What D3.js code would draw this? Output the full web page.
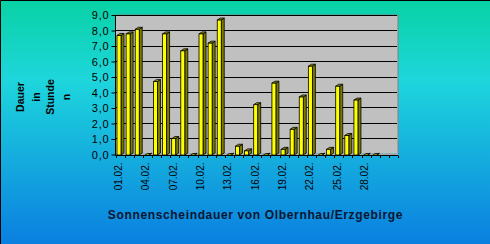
<!DOCTYPE html>
<html>
<head>
<meta charset="utf-8">
<script src="https://cdn.jsdelivr.net/npm/d3@7"></script>
<style>
  body { margin: 0; }
  svg { display: block; font-family: Arial, "Liberation Sans", sans-serif; }
</style>
</head>
<body>
<svg width="490" height="244"></svg>
<script>
// days of the month (31 slots, as on the original sheet)
var days = ["01.02.","02.02.","03.02.","04.02.","05.02.","06.02.","07.02.","08.02.","09.02.","10.02.",
            "11.02.","12.02.","13.02.","14.02.","15.02.","16.02.","17.02.","18.02.","19.02.","20.02.",
            "21.02.","22.02.","23.02.","24.02.","25.02.","26.02.","27.02.","28.02.","29.02.","30.02.","31.02."];
// sunshine hours per day
var hours = [7.8, 7.9, 8.2, 0, 4.8, 7.9, 1.1, 6.8, 0, 7.9,
             7.3, 8.8, 0, 0.6, 0.3, 3.3, 0, 4.7, 0.4, 1.7,
             3.8, 5.8, 0, 0.4, 4.5, 1.3, 3.6, 0, 0, null, null];
var yTicks = [0, 1, 2, 3, 4, 5, 6, 7, 8, 9];
var shownLabels = ["01.02.","04.02.","07.02.","10.02.","13.02.","16.02.","19.02.","22.02.","25.02.","28.02."];
var yTitle = ["Dauer", "in", "Stunde", "n"];
var title = "Sonnenscheindauer von Olbernhau/Erzgebirge";

var svg = d3.select("svg");
var W = 490, H = 244;

// background gradient
var defs = svg.append("defs");
var grad = defs.append("linearGradient").attr("id", "bg").attr("x1", 0).attr("y1", 0).attr("x2", 0).attr("y2", 1);
grad.append("stop").attr("offset", "0%").attr("stop-color", "#08d2a4");
grad.append("stop").attr("offset", "33%").attr("stop-color", "#1ed6dc");
grad.append("stop").attr("offset", "100%").attr("stop-color", "#0a7fe0");
svg.append("rect").attr("width", W).attr("height", H).attr("fill", "url(#bg)");
svg.append("path").attr("d", "M0.5," + H + "V0.5H" + W).attr("fill", "none").attr("stroke", "#000");

// plot geometry
var pLeft = 115.5, pRight = 398, pTop = 15, floorY = 153.5, axisY = 155.5;
var dx = 3, dy = 2; // 3d depth

var x = d3.scaleBand().domain(days).range([pLeft, pRight]);
var y = d3.scaleLinear().domain([0, 9]).range([floorY, pTop]);

// back wall and floor
svg.append("rect").attr("x", pLeft).attr("y", pTop).attr("width", pRight - pLeft).attr("height", floorY - pTop)
   .attr("fill", "#c0c0c0");
svg.append("path").attr("d", "M" + pLeft + "," + pTop + "H" + pRight + "V" + floorY)
   .attr("fill", "none").attr("stroke", "#808080");
svg.append("rect").attr("x", pLeft).attr("y", floorY).attr("width", pRight - pLeft).attr("height", axisY - floorY)
   .attr("fill", "#a8a8a8");

// gridlines
svg.append("g").selectAll("line").data(yTicks.slice(1)).join("line")
   .attr("x1", pLeft).attr("x2", pRight - 1)
   .attr("y1", d => Math.round(y(d)) + 0.5).attr("y2", d => Math.round(y(d)) + 0.5)
   .attr("stroke", "#000");

// bars (side, top, front)
var bars = svg.append("g").selectAll("g").data(hours.map((v, i) => ({day: days[i], v: v})).filter(d => d.v !== null))
   .join("g");
var fw = 4;
bars.each(function(d) {
  var g = d3.select(this);
  var x0 = x(d.day) + 1.5, x1 = x0 + fw;
  var yt = y(d.v) + dy, yb = axisY - 0.5;
  g.append("path").attr("d", "M" + x1 + "," + yt + "l" + dx + "," + (-dy) + "V" + (yb - dy) + "l" + (-dx) + "," + dy + "Z")
   .attr("fill", "#7a7a00").attr("stroke", "#000").attr("stroke-width", 0.8);
  g.append("path").attr("d", "M" + x0 + "," + yt + "l" + dx + "," + (-dy) + "H" + (x1 + dx) + "l" + (-dx) + "," + dy + "Z")
   .attr("fill", "#9a9a00").attr("stroke", "#000").attr("stroke-width", 0.8);
  g.append("rect").attr("x", x0).attr("y", yt).attr("width", fw).attr("height", Math.max(0, yb - yt))
   .attr("fill", "#ffff00").attr("stroke", "#000").attr("stroke-width", 0.8);
});

// y axis
var yAxis = d3.axisLeft(d3.scaleLinear().domain([0, 9]).range([floorY + 1, pTop]))
   .tickValues(yTicks).tickSize(4).tickPadding(2)
   .tickFormat(d => d3.format(".1f")(d).replace(".", ","));
var ya = svg.append("g").attr("transform", "translate(" + pLeft + ",0)").call(yAxis);
ya.select(".domain").attr("stroke", "#000").attr("d", "M0," + pTop + "V" + axisY);
ya.selectAll("text").attr("font-size", 11).attr("fill", "#000").attr("letter-spacing", 0.8)
  .attr("font-family", "Arial, 'Liberation Sans', sans-serif");

// x axis
svg.append("line").attr("x1", pLeft).attr("x2", pRight).attr("y1", axisY).attr("y2", axisY).attr("stroke", "#000");
svg.append("g").selectAll("line").data(days.concat(["end"])).join("line")
   .attr("x1", (d, i) => Math.round(pLeft + i * x.bandwidth()) + 0.5)
   .attr("x2", (d, i) => Math.round(pLeft + i * x.bandwidth()) + 0.5)
   .attr("y1", axisY).attr("y2", axisY + 2.5).attr("stroke", "#000");
svg.append("g").selectAll("text").data(shownLabels).join("text")
   .attr("transform", d => "translate(" + (x(d) + 3) + "," + (axisY + 7) + ") rotate(-90)")
   .attr("text-anchor", "end").attr("dy", "0.35em")
   .attr("font-size", 10).attr("fill", "#000").text(d => d);

// y title
svg.append("g").selectAll("text").data(yTitle).join("text")
   .attr("transform", (d, i) => "translate(" + [20, 36, 50, 66.5][i] + ",97) rotate(-90)")
   .attr("text-anchor", "middle").attr("dy", "0.35em")
   .attr("font-size", 10.5).attr("font-weight", "bold").attr("fill", "#000").text(d => d);

// title
svg.append("text").attr("x", 255.5).attr("y", 219).attr("text-anchor", "middle")
   .attr("font-size", 12).attr("font-weight", "bold").attr("fill", "#0a1530")
   .attr("letter-spacing", 0.65).text(title);
</script>
</body>
</html>
